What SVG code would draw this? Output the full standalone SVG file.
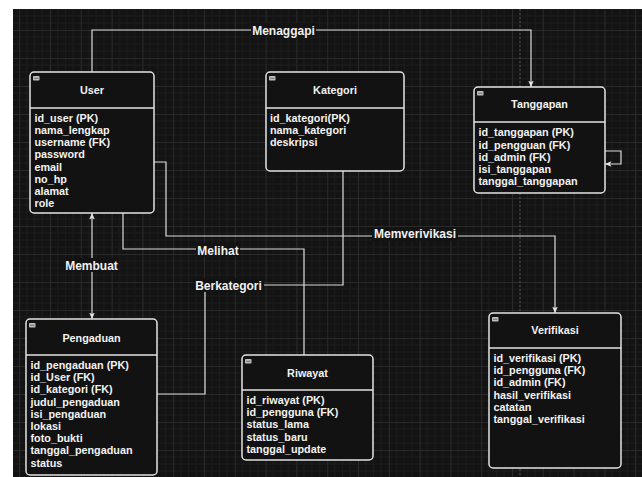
<svg xmlns="http://www.w3.org/2000/svg" width="642" height="477" viewBox="0 0 642 477">
<defs>
<pattern id="grid" patternUnits="userSpaceOnUse" x="50" y="30" width="30.8" height="28">
<rect width="30.8" height="28" fill="#131313"/>
<path d="M7.7,0V28M15.4,0V28M23.1,0V28M0,7H30.8M0,14H30.8M0,21H30.8" stroke="#1c1c1c" stroke-width="1" fill="none"/>
<path d="M0.5,0V28M0,0.5H30.8" stroke="#2a2a2a" stroke-width="1" fill="none"/>
</pattern>
<marker id="arr" viewBox="0 0 8 7" refX="8" refY="3.5" markerWidth="6.5" markerHeight="6" markerUnits="userSpaceOnUse" orient="auto-start-reverse">
<path d="M0,0 L8,3.5 L0,7 L2,3.5 z" fill="#e6e6e6"/>
</marker>
<g id="icon"><rect x="0" y="0" width="6.5" height="4.5" rx="0.8" fill="#bdbdbd"/><line x1="1" y1="2.25" x2="5.5" y2="2.25" stroke="#555" stroke-width="0.8"/></g>
</defs>
<style>
.box{fill:#121212;stroke:#e3e3e3;stroke-width:1.5}
.div{stroke:#e3e3e3;stroke-width:1.5}
.t{font-family:"Liberation Sans",Arial,sans-serif;font-weight:bold;font-size:10.8px;fill:#f2f2f2}
.title{text-anchor:middle}
.edge{fill:none;stroke:#dcdcdc;stroke-width:1.2}
.lbl{font-family:"Liberation Sans",Arial,sans-serif;font-weight:bold;font-size:12px;fill:#f0f0f0;text-anchor:middle}
.lbg{fill:#131313}
</style>
<rect x="0" y="0" width="642" height="477" fill="#ffffff"/>
<rect x="13" y="9" width="629" height="468" fill="url(#grid)"/>
<line x1="520" y1="9" x2="520" y2="477" stroke="#4a4a4a" stroke-width="1.2" stroke-dasharray="2 2"/>

<g id="connectors">
<path class="edge" d="M92,72 V30 H531 V87" marker-end="url(#arr)"/>
<path class="edge" d="M605,151 H621 V164 H605" marker-end="url(#arr)"/>
<path class="edge" d="M154,162 H166 V236 H555 V313" marker-end="url(#arr)"/>
<path class="edge" d="M92,213 V319" marker-start="url(#arr)" marker-end="url(#arr)"/>
<path class="edge" d="M123,213 V249 H304 V355"/>
<path class="edge" d="M157,394 H205 V285 H343 V171"/>
<rect class="lbg" x="251" y="23" width="65" height="14"/>
<text class="lbl" x="283.5" y="34.5">Menaggapi</text>
<rect class="lbg" x="64" y="258" width="55" height="14"/>
<text class="lbl" x="91.5" y="269.5">Membuat</text>
<rect class="lbg" x="196" y="243" width="44" height="14"/>
<text class="lbl" x="218" y="254.5">Melihat</text>
<rect class="lbg" x="193" y="278" width="71" height="14"/>
<text class="lbl" x="228.5" y="289.5">Berkategori</text>
<rect class="lbg" x="372" y="227" width="86" height="14"/>
<text class="lbl" x="415" y="237.5">Memverivikasi</text>
</g>

<g id="user">
<rect class="box" x="30" y="72" width="124" height="141" rx="4"/>
<line class="div" x1="30" y1="108" x2="154" y2="108"/>
<use href="#icon" x="33" y="76"/>
<text class="t title" x="92" y="94">User</text>
<text class="t" x="34.5" y="121.8">id_user (PK)</text>
<text class="t" x="34.5" y="134">nama_lengkap</text>
<text class="t" x="34.5" y="146.2">username (FK)</text>
<text class="t" x="34.5" y="158.4">password</text>
<text class="t" x="34.5" y="170.6">email</text>
<text class="t" x="34.5" y="182.8">no_hp</text>
<text class="t" x="34.5" y="195">alamat</text>
<text class="t" x="34.5" y="207.2">role</text>
</g>

<g id="kategori">
<rect class="box" x="266" y="72" width="138" height="99" rx="4"/>
<line class="div" x1="266" y1="108" x2="404" y2="108"/>
<use href="#icon" x="269" y="76"/>
<text class="t title" x="335" y="94">Kategori</text>
<text class="t" x="270" y="121.8">id_kategori(PK)</text>
<text class="t" x="270" y="134">nama_kategori</text>
<text class="t" x="270" y="146.2">deskripsi</text>
</g>

<g id="tanggapan">
<rect class="box" x="474" y="87" width="131" height="106" rx="4"/>
<line class="div" x1="474" y1="122" x2="605" y2="122"/>
<use href="#icon" x="477" y="91"/>
<text class="t title" x="539.5" y="108">Tanggapan</text>
<text class="t" x="478.5" y="136.3">id_tanggapan (PK)</text>
<text class="t" x="478.5" y="148.5">id_pengguan (FK)</text>
<text class="t" x="478.5" y="160.7">id_admin (FK)</text>
<text class="t" x="478.5" y="172.9">isi_tanggapan</text>
<text class="t" x="478.5" y="185.1">tanggal_tanggapan</text>
</g>

<g id="verifikasi">
<rect class="box" x="489" y="313" width="132" height="155" rx="4"/>
<line class="div" x1="489" y1="348" x2="621" y2="348"/>
<use href="#icon" x="492" y="317"/>
<text class="t title" x="555" y="334">Verifikasi</text>
<text class="t" x="493.5" y="362">id_verifikasi (PK)</text>
<text class="t" x="493.5" y="374.2">id_pengguna (FK)</text>
<text class="t" x="493.5" y="386.4">id_admin (FK)</text>
<text class="t" x="493.5" y="398.6">hasil_verifikasi</text>
<text class="t" x="493.5" y="410.8">catatan</text>
<text class="t" x="493.5" y="423">tanggal_verifikasi</text>
</g>

<g id="pengaduan">
<rect class="box" x="26" y="319" width="131" height="156" rx="4"/>
<line class="div" x1="26" y1="355" x2="157" y2="355"/>
<use href="#icon" x="29" y="323"/>
<text class="t title" x="91.5" y="341.5">Pengaduan</text>
<text class="t" x="30.5" y="369">id_pengaduan (PK)</text>
<text class="t" x="30.5" y="381.2">id_User (FK)</text>
<text class="t" x="30.5" y="393.4">id_kategori (FK)</text>
<text class="t" x="30.5" y="405.6">judul_pengaduan</text>
<text class="t" x="30.5" y="417.8">isi_pengaduan</text>
<text class="t" x="30.5" y="430">lokasi</text>
<text class="t" x="30.5" y="442.2">foto_bukti</text>
<text class="t" x="30.5" y="454.4">tanggal_pengaduan</text>
<text class="t" x="30.5" y="466.6">status</text>
</g>

<g id="riwayat">
<rect class="box" x="242" y="355" width="131" height="105" rx="4"/>
<line class="div" x1="242" y1="390" x2="373" y2="390"/>
<use href="#icon" x="245" y="359"/>
<text class="t title" x="307.5" y="377">Riwayat</text>
<text class="t" x="246.5" y="404">id_riwayat (PK)</text>
<text class="t" x="246.5" y="416.2">id_pengguna (FK)</text>
<text class="t" x="246.5" y="428.4">status_lama</text>
<text class="t" x="246.5" y="440.6">status_baru</text>
<text class="t" x="246.5" y="452.8">tanggal_update</text>
</g>
</svg>
